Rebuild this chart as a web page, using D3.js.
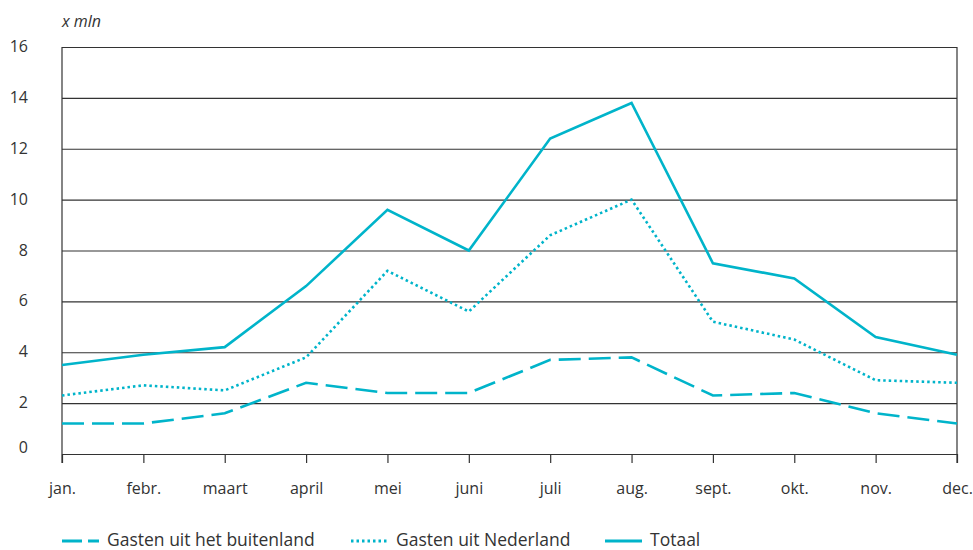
<!DOCTYPE html>
<html>
<head>
<meta charset="utf-8">
<script src="https://cdn.jsdelivr.net/npm/d3@7"></script>
<style>
	body { margin: 0; background: #fff; }
	text { font-family: "Open Sans", sans-serif; fill: #333; }
</style>
</head>
<body>
<svg id="graph"></svg>
<script>
var months = ["jan.", "febr.", "maart", "april", "mei", "juni", "juli", "aug.", "sept.", "okt.", "nov.", "dec."];
var totaal = [3.5, 3.9, 4.2, 6.6, 9.6, 8.0, 12.4, 13.8, 7.5, 6.9, 4.6, 3.9];
var nederland = [2.3, 2.7, 2.5, 3.8, 7.2, 5.6, 8.6, 10.0, 5.2, 4.5, 2.9, 2.8];
var buitenland = [1.2, 1.2, 1.6, 2.8, 2.4, 2.4, 3.7, 3.8, 2.3, 2.4, 1.6, 1.2];
var yTicks = [0, 2, 4, 6, 8, 10, 12, 14, 16];
var seriesNames = ["Gasten uit het buitenland", "Gasten uit Nederland", "Totaal"];

document.addEventListener("DOMContentLoaded", function(event) {
	var margin = {top: 47, left: 62, right: 16, bottom: 96},
		width = 973 - margin.left - margin.right,
		height = 550 - margin.top - margin.bottom,
		graph = d3.select("#graph").attr("width", 973).attr("height", 550),
		g = graph.append("g").attr("transform", "translate(" + margin.left + "," + margin.top + ")");

	var color = "#00b4ca";

	var x = d3.scalePoint().domain(months).range([0, width]),
		y = d3.scaleLinear().domain([0, 16]).range([height, 0]);

	// horizontal grid
	g.append("g")
		.attr("class", "grid")
		.call(d3.axisLeft(y).tickValues(yTicks).tickSize(-width).tickFormat(""))
		.call(function(s) {
			s.select(".domain").remove();
			s.selectAll("line").attr("stroke", "#333").attr("stroke-width", 1.2);
		});

	// y labels
	g.append("g")
		.selectAll("text")
		.data(yTicks)
		.enter().append("text")
			.attr("x", -34)
			.attr("y", function(d) { return y(d) + (d === 0 ? -1 : 5); })
			.attr("text-anchor", "end")
			.style("font-size", "16px")
			.text(function(d) { return d; });

	// vertical borders
	[0, width].forEach(function(px) {
		g.append("line")
			.attr("x1", px).attr("x2", px)
			.attr("y1", 0).attr("y2", height + 9)
			.attr("stroke", "#333").attr("stroke-width", 1.2);
	});

	// x axis
	g.append("g")
		.attr("transform", "translate(0," + height + ")")
		.call(d3.axisBottom(x).tickSize(9).tickPadding(20))
		.call(function(s) {
			s.select(".domain").remove();
			s.selectAll("line").attr("stroke", "#333").attr("stroke-width", 1.2);
			s.selectAll("text").style("font-size", "16px").attr("fill", "#333")
				.style("font-family", "'Open Sans', sans-serif");
		});

	g.append("text")
		.attr("x", 0)
		.attr("y", -20)
		.style("font-size", "16px")
		.style("font-style", "italic")
		.text("x mln");

	var line = d3.line()
		.x(function(d, i) { return x(months[i]); })
		.y(function(d) { return y(d); });

	var styles = [
		{data: buitenland, dash: "22,8"},
		{data: nederland, dash: "2.5,3"},
		{data: totaal, dash: null}
	];

	styles.forEach(function(s) {
		g.append("path")
			.datum(s.data)
			.attr("fill", "none")
			.attr("stroke", color)
			.attr("stroke-width", 2.6)
			.attr("stroke-dasharray", s.dash)
			.attr("d", line);
	});

	// legend
	var legendX = [62, 351, 605];
	var legend = graph.append("g");
	styles.forEach(function(s, i) {
		var lg = legend.append("g").attr("transform", "translate(" + legendX[i] + ",541)");
		lg.append("line")
			.attr("x1", 0).attr("x2", 37)
			.attr("stroke", color)
			.attr("stroke-width", 2.8)
			.attr("stroke-dasharray", i === 0 ? "20,6" : s.dash);
		lg.append("text")
			.attr("x", 45)
			.attr("y", 5)
			.style("font-size", "17.5px")
			.text(seriesNames[i]);
	});
});
</script>
</body>
</html>
